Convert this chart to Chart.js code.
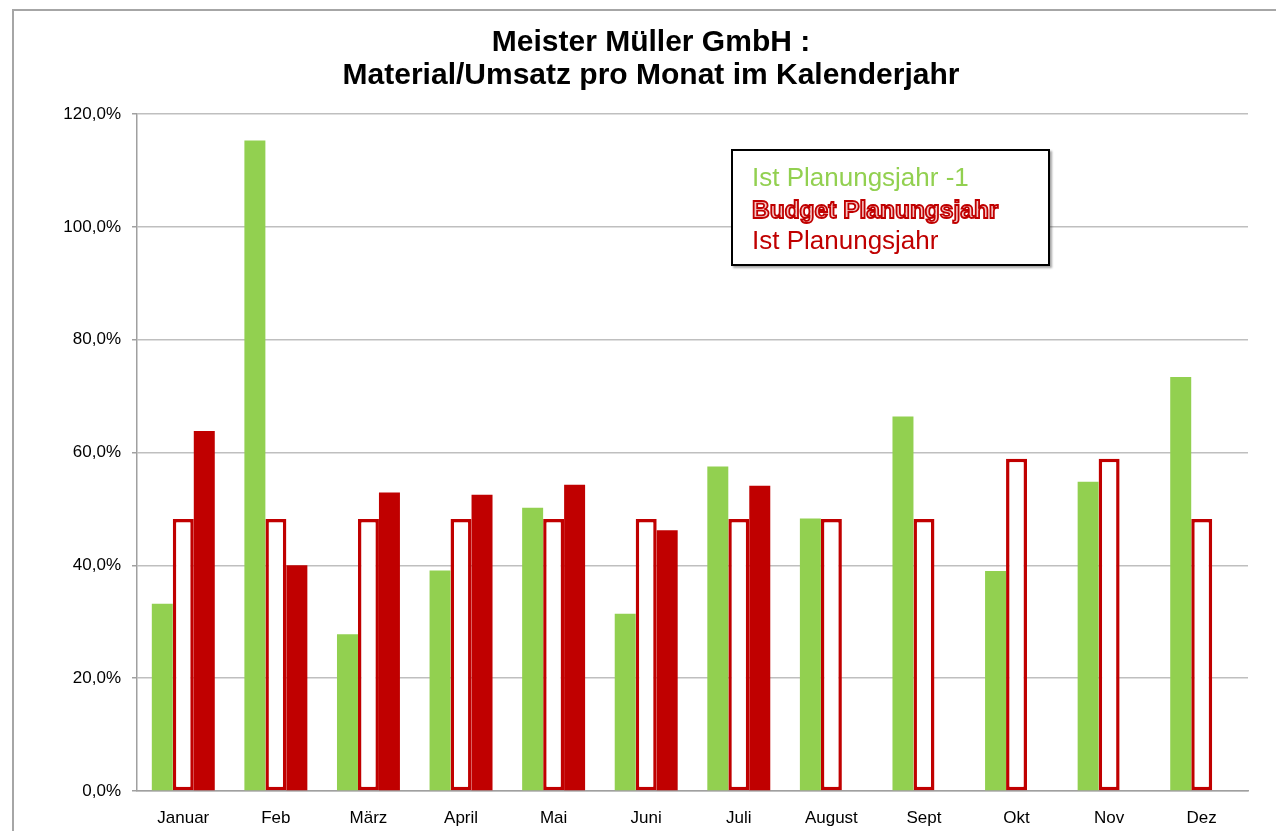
<!DOCTYPE html>
<html lang="de">
<head>
<meta charset="utf-8">
<title>Material/Umsatz pro Monat</title>
<script src="https://cdn.jsdelivr.net/npm/chart.js@4/dist/chart.umd.min.js"></script>
<style>
  html, body { margin: 0; padding: 0; background: #fff; overflow: hidden; }
  #wrap { position: relative; width: 1276px; height: 831px; }
  #frame {
    position: absolute; left: 12px; top: 9px; width: 1300px; height: 900px;
    border: 2px solid #a6a6a6; box-sizing: border-box;
  }
  canvas { position: absolute; left: 0; top: 0; }
  #legende {
    position: absolute; left: 731px; top: 149px; width: 319px; height: 117px;
    box-sizing: border-box; border: 2px solid #000; background: #fff;
    box-shadow: 2px 2px 2px rgba(0, 0, 0, 0.35);
    padding: 11px 0 0 19px;
    font-family: "Liberation Sans", Arial, sans-serif;
  }
  #legende div { height: 31.5px; line-height: 31.5px; white-space: nowrap; font-size: 26px; }
  #legende .kontur { font-weight: bold; font-size: 24.5px; color: #f4c8c8; -webkit-text-stroke: 1.8px #c00000; }
</style>
</head>
<body>
<div id="wrap">
  <div id="frame"></div>
  <canvas id="grafik" width="1276" height="831"></canvas>
  <div id="legende"></div>
</div>
<script>
// Monate und Werte (in Prozent)
const monate = ["Januar", "Feb", "März", "April", "Mai", "Juni", "Juli", "August", "Sept", "Okt", "Nov", "Dez"]
const istVorjahr = [33.2, 115.3, 27.8, 39.1, 50.2, 31.4, 57.5, 48.3, 66.4, 39.0, 54.8, 73.4]
const budget = [48.2, 48.2, 48.2, 48.2, 48.2, 48.2, 48.2, 48.2, 48.2, 58.9, 58.9, 48.2]
const istJahr = [63.8, 40.0, 52.9, 52.5, 54.3, 46.2, 54.1, null, null, null, null, null]
const yTicks = [0, 20, 40, 60, 80, 100, 120]

const farben = {
  gruen: "#92d050",
  rot: "#c00000",
  gitter: "#bfbfbf",
  achse: "#a0a0a0",
}

const schrift = "'Liberation Sans', Arial, sans-serif"

const ctx = document.getElementById("grafik").getContext("2d")
const grafik = new Chart(ctx, {
  type: "bar",
  data: {
    labels: monate,
    datasets: [
      {
        label: "Ist Planungsjahr -1",
        data: istVorjahr,
        backgroundColor: farben.gruen,
        borderWidth: 0,
      },
      {
        label: "Budget Planungsjahr",
        data: budget,
        backgroundColor: "#ffffff",
        borderColor: farben.rot,
        borderWidth: 3.5,
        borderSkipped: false,
      },
      {
        label: "Ist Planungsjahr",
        data: istJahr,
        backgroundColor: farben.rot,
        borderWidth: 0,
      },
    ],
  },
  options: {
    responsive: false,
    animation: false,
    layout: {
      padding: { left: 54, right: 28, top: 0, bottom: 0 },
    },
    datasets: {
      bar: {
        categoryPercentage: 0.68,
        barPercentage: 1.0,
      },
    },
    plugins: {
      legend: { display: false },
      tooltip: { enabled: false },
      title: {
        display: true,
        text: ["Meister Müller GmbH :", "Material/Umsatz pro Monat im Kalenderjahr"],
        color: "#000",
        font: { family: schrift, size: 30, weight: "bold", lineHeight: 33 / 30 },
        padding: { top: 26.5, bottom: 21.5 },
      },
    },
    scales: {
      y: {
        min: 0,
        max: 120,
        afterFit: (scale) => { scale.width = 83 },
        afterBuildTicks: (scale) => { scale.ticks = yTicks.map((v) => ({ value: v })) },
        ticks: {
          color: "#000",
          padding: 11,
          font: { family: schrift, size: 17 },
          callback: (v) => v.toFixed(1).replace(".", ",") + "%",
        },
        grid: {
          color: farben.gitter,
          tickColor: farben.achse,
          tickLength: 5,
          lineWidth: 1.5,
        },
        border: { color: farben.achse, width: 1.5 },
      },
      x: {
        afterFit: (scale) => { scale.height = 40 },
        ticks: {
          color: "#000",
          padding: 17,
          font: { family: schrift, size: 17 },
          maxRotation: 0,
          autoSkip: false,
        },
        grid: { display: false, drawTicks: false },
        border: { display: true, color: farben.achse, width: 1.5 },
      },
    },
  },
})

// Legende als Textkasten (wie im Original nur farbiger Text)
const legende = document.getElementById("legende")
grafik.data.datasets.forEach((ds, i) => {
  const zeile = document.createElement("div")
  zeile.textContent = ds.label
  if (i === 1) {
    zeile.className = "kontur"
  } else {
    zeile.style.color = ds.backgroundColor
  }
  legende.appendChild(zeile)
})
</script>
</body>
</html>
